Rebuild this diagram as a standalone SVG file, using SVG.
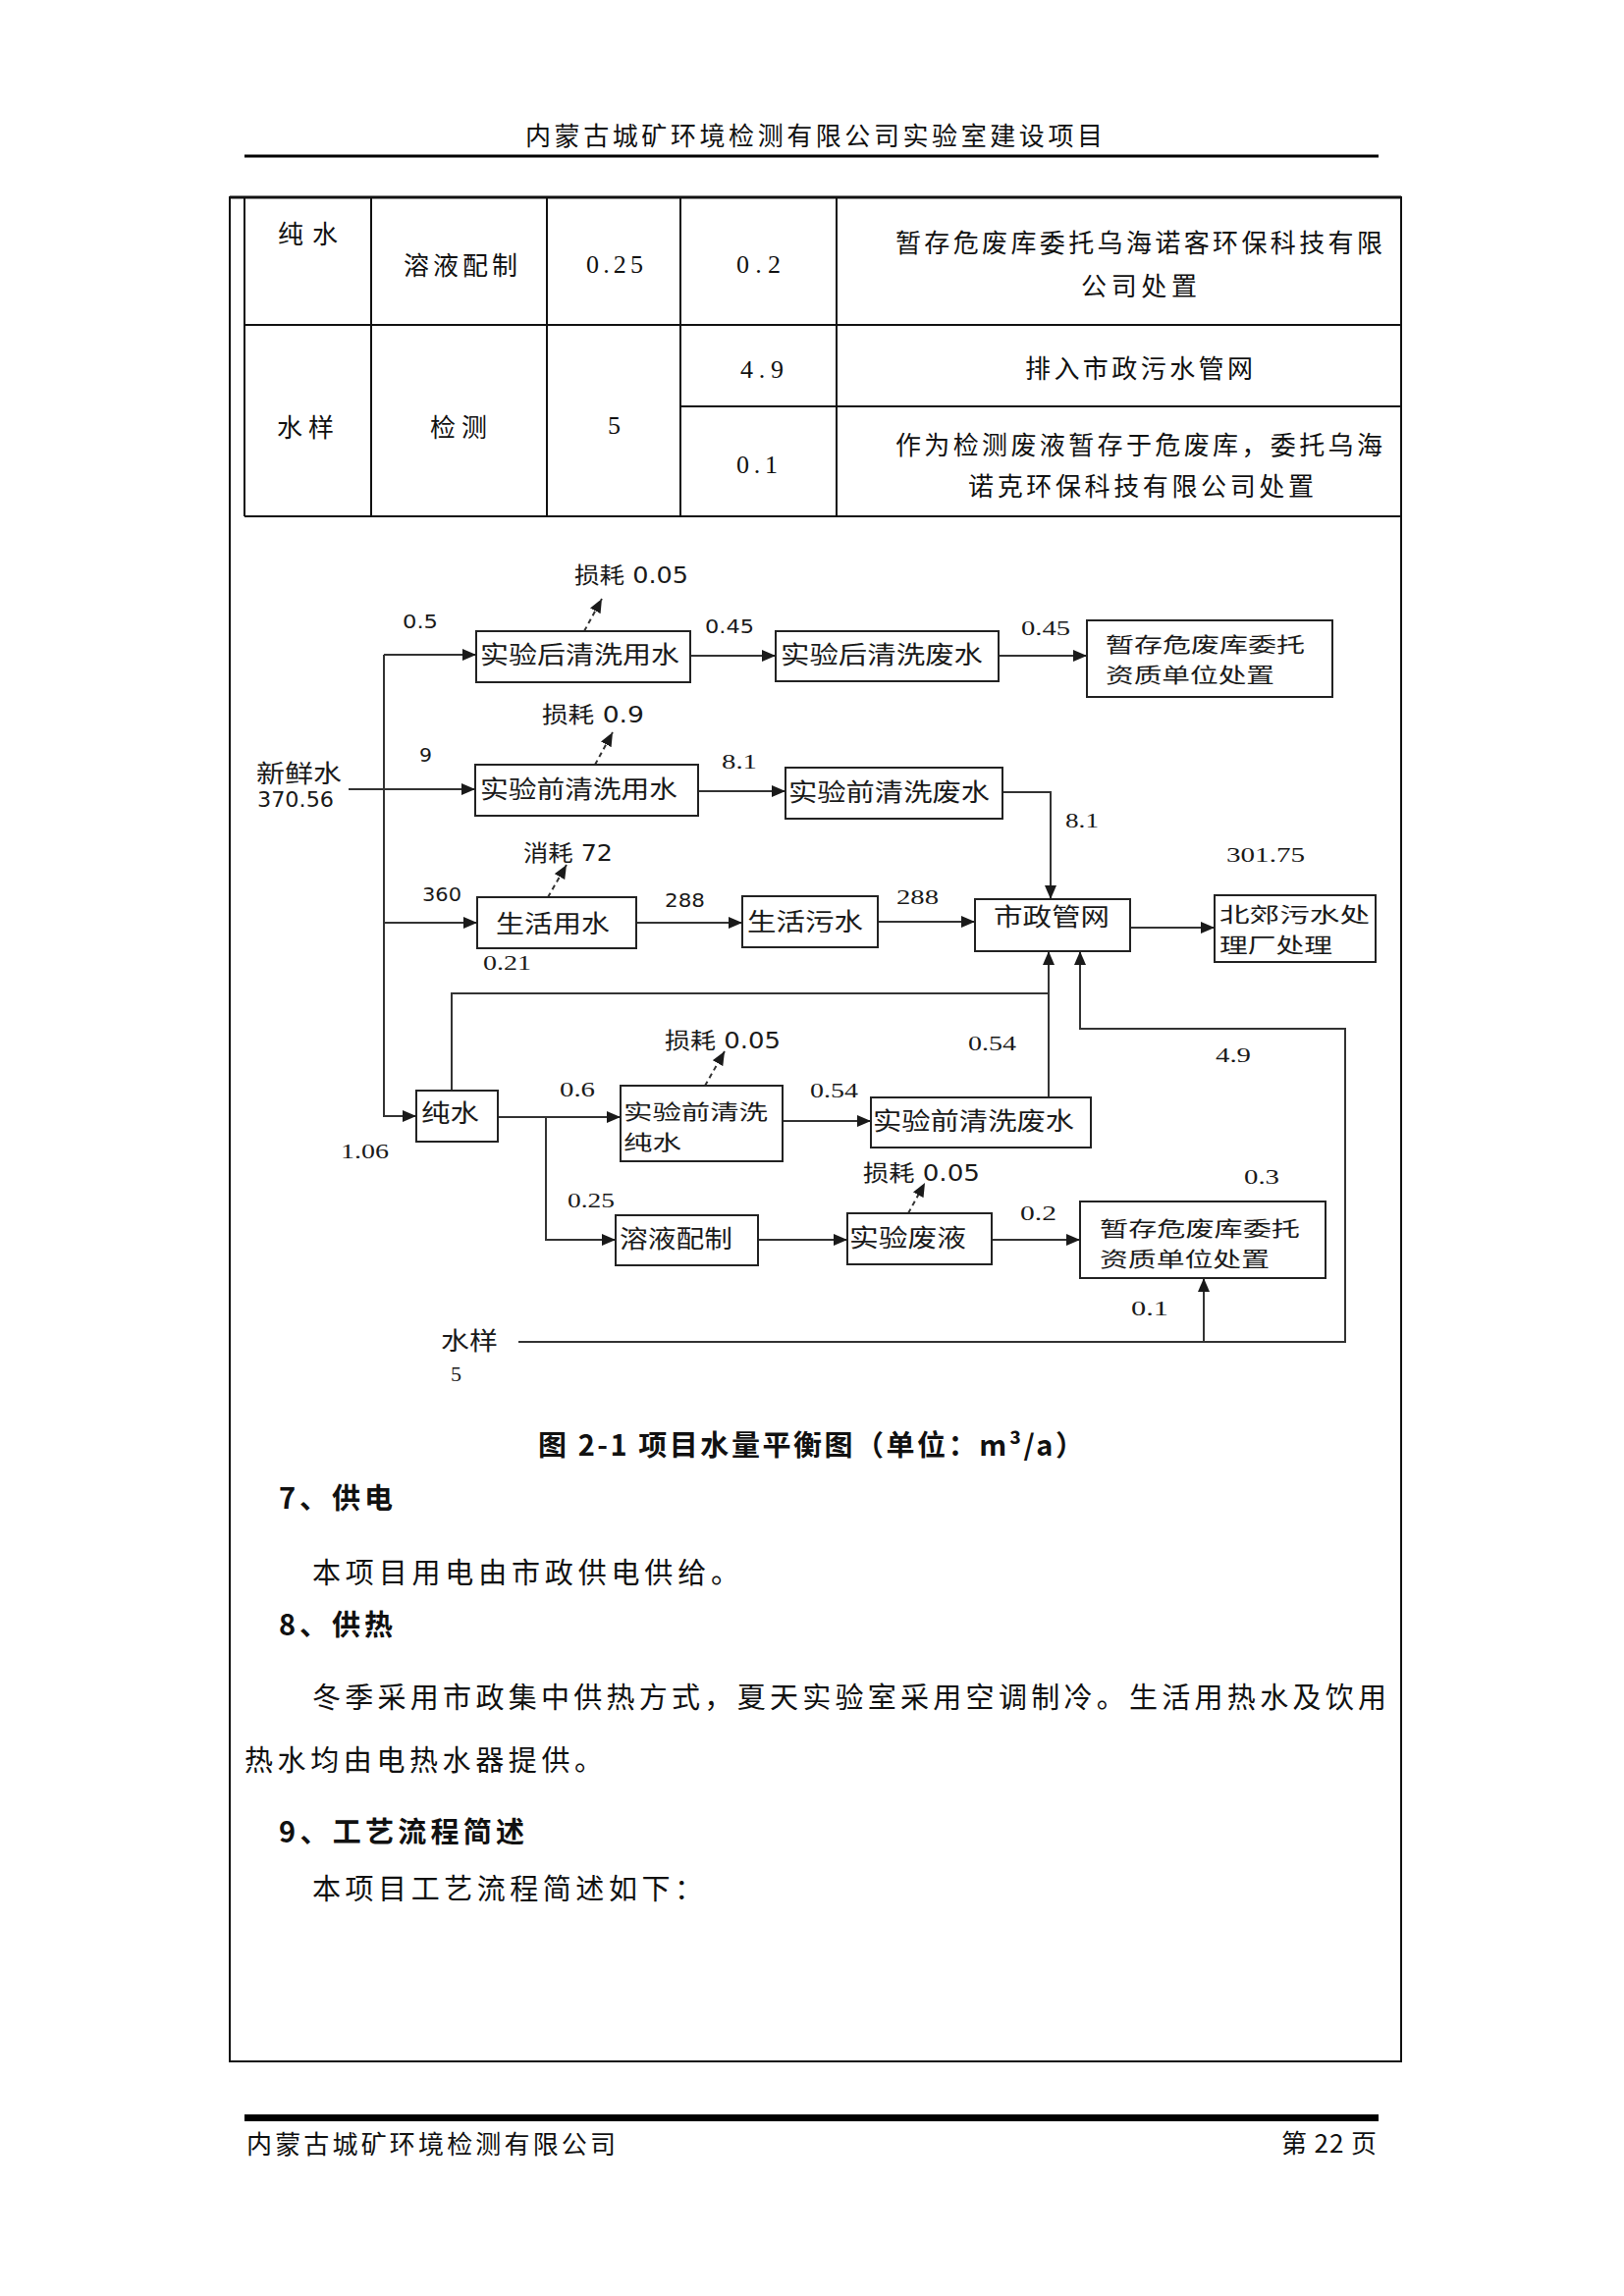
<svg xmlns="http://www.w3.org/2000/svg" width="1654" height="2339" viewBox="0 0 1654 2339">
<style>
.pg{font-family:"Noto Sans CJK SC","Noto Sans",sans-serif;font-size:26px;fill:#111}
.bd{font-family:"Noto Sans CJK SC","Noto Sans",sans-serif;font-size:29px;fill:#111}
.bb{font-family:"Noto Sans CJK SC","Noto Sans",sans-serif;font-size:29px;font-weight:bold;fill:#111}
.tn{font-family:"Liberation Serif","Noto Sans CJK SC",serif;font-size:26px;fill:#111}
.dc{font-family:"Noto Sans CJK SC",sans-serif;font-size:25px;fill:#1a1a1a}
.d2{font-family:"Noto Sans CJK SC",sans-serif;font-size:21px;fill:#1a1a1a}
.ds{font-family:"DejaVu Sans","Noto Sans CJK SC",sans-serif;font-size:20px;fill:#1a1a1a}
.dl2{font-family:"DejaVu Sans","Noto Sans CJK SC",sans-serif;font-size:23px;fill:#1a1a1a}
.dt{font-family:"Liberation Serif","Noto Sans CJK SC",serif;font-size:22px;fill:#1a1a1a}
.gl{stroke:#111;stroke-width:2;fill:none}
.bx{fill:#fff;stroke:#222;stroke-width:2}
.ln{stroke:#333;stroke-width:2;fill:none}
.dl{stroke:#333;stroke-width:2;fill:none;stroke-dasharray:5 4}
</style>
<defs>
<marker id="ah" markerWidth="14" markerHeight="12" refX="14" refY="6" orient="auto" markerUnits="userSpaceOnUse"><path d="M0,0 L14,6 L0,12 z" fill="#1a1a1a"/></marker>
</defs>
<rect width="1654" height="2339" fill="#fff"/>

<g id="page-header">
<text class="pg" x="535" y="148" textLength="588">内蒙古城矿环境检测有限公司实验室建设项目</text>
<line x1="249" y1="159" x2="1404" y2="159" stroke="#000" stroke-width="3"/>
</g>

<g id="page-frame">
<rect x="234" y="201" width="1193" height="1899" class="gl"/>
<line x1="234" y1="201" x2="1427" y2="201" stroke="#111" stroke-width="3"/>
</g>

<g id="table">
<g class="gl">
<line x1="249" y1="201" x2="249" y2="526"/>
<line x1="378" y1="201" x2="378" y2="526"/>
<line x1="557" y1="201" x2="557" y2="526"/>
<line x1="693" y1="201" x2="693" y2="526"/>
<line x1="852" y1="201" x2="852" y2="526"/>
<line x1="249" y1="331" x2="1427" y2="331"/>
<line x1="693" y1="414" x2="1427" y2="414"/>
<line x1="249" y1="526" x2="1427" y2="526"/>
</g>
<text class="pg" x="283" y="248" textLength="61">纯水</text>
<text class="pg" x="411" y="280" textLength="116">溶液配制</text>
<text class="tn" x="597" y="278" textLength="58">0.25</text>
<text class="tn" x="750" y="278" textLength="45">0.2</text>
<text class="pg" x="912" y="257" textLength="496">暂存危废库委托乌海诺客环保科技有限</text>
<text class="pg" x="1101" y="301" textLength="118">公司处置</text>
<text class="pg" x="282" y="445" textLength="58">水样</text>
<text class="pg" x="438" y="445" textLength="58">检测</text>
<text class="tn" x="619" y="442" textLength="13">5</text>
<text class="tn" x="754" y="385" textLength="44">4.9</text>
<text class="pg" x="1044" y="385" textLength="232">排入市政污水管网</text>
<text class="tn" x="750" y="482" textLength="42">0.1</text>
<text class="pg" x="912" y="463" textLength="496">作为检测废液暂存于危废库，委托乌海</text>
<text class="pg" x="986" y="505" textLength="352">诺克环保科技有限公司处置</text>
</g>

<g id="connectors">
<polyline class="ln" points="391,667 391,1137 424,1137" marker-end="url(#ah)"/>
<line class="ln" x1="391" y1="667" x2="485" y2="667" marker-end="url(#ah)"/>
<line class="ln" x1="355" y1="804" x2="484" y2="804" marker-end="url(#ah)"/>
<line class="ln" x1="391" y1="940" x2="486" y2="940" marker-end="url(#ah)"/>
<line class="ln" x1="703" y1="668" x2="790" y2="668" marker-end="url(#ah)"/>
<line class="ln" x1="1017" y1="668" x2="1107" y2="668" marker-end="url(#ah)"/>
<line class="ln" x1="711" y1="806" x2="800" y2="806" marker-end="url(#ah)"/>
<polyline class="ln" points="1021,807 1070,807 1070,916" marker-end="url(#ah)"/>
<line class="ln" x1="648" y1="940" x2="756" y2="940" marker-end="url(#ah)"/>
<line class="ln" x1="894" y1="939" x2="993" y2="939" marker-end="url(#ah)"/>
<line class="ln" x1="1151" y1="945" x2="1237" y2="945" marker-end="url(#ah)"/>
<polyline class="ln" points="460,1111 460,1012 1068,1012"/>
<line class="ln" x1="1068" y1="1118" x2="1068" y2="969" marker-end="url(#ah)"/>
<line class="ln" x1="507" y1="1138" x2="632" y2="1138" marker-end="url(#ah)"/>
<polyline class="ln" points="556,1138 556,1263 627,1263" marker-end="url(#ah)"/>
<line class="ln" x1="797" y1="1142" x2="887" y2="1142" marker-end="url(#ah)"/>
<line class="ln" x1="772" y1="1263" x2="863" y2="1263" marker-end="url(#ah)"/>
<line class="ln" x1="1010" y1="1263" x2="1100" y2="1263" marker-end="url(#ah)"/>
<polyline class="ln" points="528,1367 1370,1367 1370,1048 1100,1048 1100,969" marker-end="url(#ah)"/>
<line class="ln" x1="1226" y1="1367" x2="1226" y2="1302" marker-end="url(#ah)"/>
<line class="dl" x1="595" y1="643" x2="613" y2="610" marker-end="url(#ah)"/>
<line class="dl" x1="606" y1="779" x2="624" y2="746" marker-end="url(#ah)"/>
<line class="dl" x1="558" y1="914" x2="577" y2="881" marker-end="url(#ah)"/>
<line class="dl" x1="718" y1="1106" x2="738" y2="1071" marker-end="url(#ah)"/>
<line class="dl" x1="925" y1="1236" x2="942" y2="1205" marker-end="url(#ah)"/>
</g>

<g id="node-b1"><rect class="bx" x="485" y="643" width="218" height="52"/><text class="dc" x="489" y="676" textLength="203" lengthAdjust="spacingAndGlyphs">实验后清洗用水</text></g>
<g id="node-b2"><rect class="bx" x="790" y="643" width="227" height="51"/><text class="dc" x="795" y="676" textLength="206" lengthAdjust="spacingAndGlyphs">实验后清洗废水</text></g>
<g id="node-b3"><rect class="bx" x="1107" y="632" width="250" height="78"/><text class="d2" x="1126" y="664" textLength="203" lengthAdjust="spacingAndGlyphs">暂存危废库委托</text><text class="d2" x="1126" y="695" textLength="172" lengthAdjust="spacingAndGlyphs">资质单位处置</text></g>
<g id="node-b4"><rect class="bx" x="484" y="779" width="227" height="52"/><text class="dc" x="489" y="813" textLength="201" lengthAdjust="spacingAndGlyphs">实验前清洗用水</text></g>
<g id="node-b5"><rect class="bx" x="800" y="782" width="221" height="52"/><text class="dc" x="803" y="816" textLength="205" lengthAdjust="spacingAndGlyphs">实验前清洗废水</text></g>
<g id="node-b6"><rect class="bx" x="486" y="914" width="162" height="52"/><text class="dc" x="505" y="950" textLength="116" lengthAdjust="spacingAndGlyphs">生活用水</text></g>
<g id="node-b7"><rect class="bx" x="756" y="913" width="138" height="52"/><text class="dc" x="761" y="948" textLength="118" lengthAdjust="spacingAndGlyphs">生活污水</text></g>
<g id="node-b8"><rect class="bx" x="993" y="916" width="158" height="53"/><text class="dc" x="1012" y="943" textLength="118" lengthAdjust="spacingAndGlyphs">市政管网</text></g>
<g id="node-b9"><rect class="bx" x="1237" y="912" width="164" height="68"/><text class="d2" x="1242" y="939" textLength="153" lengthAdjust="spacingAndGlyphs">北郊污水处</text><text class="d2" x="1242" y="970" textLength="115" lengthAdjust="spacingAndGlyphs">理厂处理</text></g>
<g id="node-b10"><rect class="bx" x="424" y="1111" width="83" height="52"/><text class="dc" x="429" y="1143" textLength="59" lengthAdjust="spacingAndGlyphs">纯水</text></g>
<g id="node-b11"><rect class="bx" x="632" y="1106" width="165" height="77"/><text class="d2" x="635" y="1140" textLength="147" lengthAdjust="spacingAndGlyphs">实验前清洗</text><text class="d2" x="635" y="1171" textLength="59" lengthAdjust="spacingAndGlyphs">纯水</text></g>
<g id="node-b12"><rect class="bx" x="887" y="1118" width="224" height="51"/><text class="dc" x="889" y="1151" textLength="205" lengthAdjust="spacingAndGlyphs">实验前清洗废水</text></g>
<g id="node-b13"><rect class="bx" x="627" y="1238" width="145" height="51"/><text class="dc" x="631" y="1271" textLength="115" lengthAdjust="spacingAndGlyphs">溶液配制</text></g>
<g id="node-b14"><rect class="bx" x="863" y="1236" width="147" height="52"/><text class="dc" x="865" y="1270" textLength="119" lengthAdjust="spacingAndGlyphs">实验废液</text></g>
<g id="node-b15"><rect class="bx" x="1100" y="1224" width="250" height="78"/><text class="d2" x="1120" y="1259" textLength="204" lengthAdjust="spacingAndGlyphs">暂存危废库委托</text><text class="d2" x="1120" y="1290" textLength="173" lengthAdjust="spacingAndGlyphs">资质单位处置</text></g>

<g id="labels">
<text class="dc" x="261" y="797" textLength="87" lengthAdjust="spacingAndGlyphs">新鲜水</text>
<text class="ds" x="262" y="822" textLength="78" lengthAdjust="spacingAndGlyphs" style="font-size:22px">370.56</text>
<text class="dc" x="449" y="1375" textLength="58" lengthAdjust="spacingAndGlyphs">水样</text>
<text class="dt" x="459" y="1407" textLength="11" lengthAdjust="spacingAndGlyphs">5</text>
<text class="dl2" x="585" y="594" textLength="116" lengthAdjust="spacingAndGlyphs">损耗 0.05</text>
<text class="dl2" x="552" y="736" textLength="104" lengthAdjust="spacingAndGlyphs">损耗 0.9</text>
<text class="dl2" x="533" y="877" textLength="91" lengthAdjust="spacingAndGlyphs">消耗 72</text>
<text class="dl2" x="677" y="1068" textLength="118" lengthAdjust="spacingAndGlyphs">损耗 0.05</text>
<text class="dl2" x="879" y="1203" textLength="119" lengthAdjust="spacingAndGlyphs">损耗 0.05</text>
<text class="ds" x="410" y="640" textLength="36" lengthAdjust="spacingAndGlyphs">0.5</text>
<text class="ds" x="718" y="645" textLength="50" lengthAdjust="spacingAndGlyphs">0.45</text>
<text class="dt" x="1040" y="647" textLength="50" lengthAdjust="spacingAndGlyphs">0.45</text>
<text class="ds" x="427" y="776" textLength="13" lengthAdjust="spacingAndGlyphs">9</text>
<text class="dt" x="735" y="783" textLength="36" lengthAdjust="spacingAndGlyphs">8.1</text>
<text class="dt" x="1085" y="843" textLength="34" lengthAdjust="spacingAndGlyphs">8.1</text>
<text class="dt" x="1249" y="878" textLength="80" lengthAdjust="spacingAndGlyphs">301.75</text>
<text class="ds" x="430" y="918" textLength="40" lengthAdjust="spacingAndGlyphs">360</text>
<text class="ds" x="677" y="924" textLength="41" lengthAdjust="spacingAndGlyphs">288</text>
<text class="dt" x="913" y="921" textLength="43" lengthAdjust="spacingAndGlyphs">288</text>
<text class="dt" x="492" y="988" textLength="49" lengthAdjust="spacingAndGlyphs">0.21</text>
<text class="dt" x="986" y="1070" textLength="49" lengthAdjust="spacingAndGlyphs">0.54</text>
<text class="dt" x="1238" y="1082" textLength="36" lengthAdjust="spacingAndGlyphs">4.9</text>
<text class="dt" x="570" y="1117" textLength="36" lengthAdjust="spacingAndGlyphs">0.6</text>
<text class="dt" x="825" y="1118" textLength="49" lengthAdjust="spacingAndGlyphs">0.54</text>
<text class="dt" x="347" y="1180" textLength="49" lengthAdjust="spacingAndGlyphs">1.06</text>
<text class="dt" x="1267" y="1206" textLength="36" lengthAdjust="spacingAndGlyphs">0.3</text>
<text class="dt" x="578" y="1230" textLength="48" lengthAdjust="spacingAndGlyphs">0.25</text>
<text class="dt" x="1039" y="1243" textLength="37" lengthAdjust="spacingAndGlyphs">0.2</text>
<text class="dt" x="1152" y="1340" textLength="38" lengthAdjust="spacingAndGlyphs">0.1</text>
</g>

<g id="body-text">
<text class="bb" x="548" y="1483" textLength="556">图 2-1 项目水量平衡图（单位：m³/a）</text>
<text class="bb" x="284" y="1537" textLength="116">7、供电</text>
<text class="bd" x="318" y="1613" textLength="435">本项目用电由市政供电供给。</text>
<text class="bb" x="284" y="1666" textLength="116">8、供热</text>
<text class="bd" x="318" y="1740" textLength="1094">冬季采用市政集中供热方式，夏天实验室采用空调制冷。生活用热水及饮用</text>
<text class="bd" x="249" y="1804" textLength="365">热水均由电热水器提供。</text>
<text class="bb" x="284" y="1877" textLength="250">9、工艺流程简述</text>
<text class="bd" x="318" y="1935" textLength="398">本项目工艺流程简述如下：</text>
</g>

<g id="page-footer">
<rect x="249" y="2154" width="1155" height="7" fill="#000"/>
<text class="pg" x="251" y="2194" textLength="376">内蒙古城矿环境检测有限公司</text>
<text class="pg" x="1305" y="2193" textLength="97">第 22 页</text>
</g>
</svg>
